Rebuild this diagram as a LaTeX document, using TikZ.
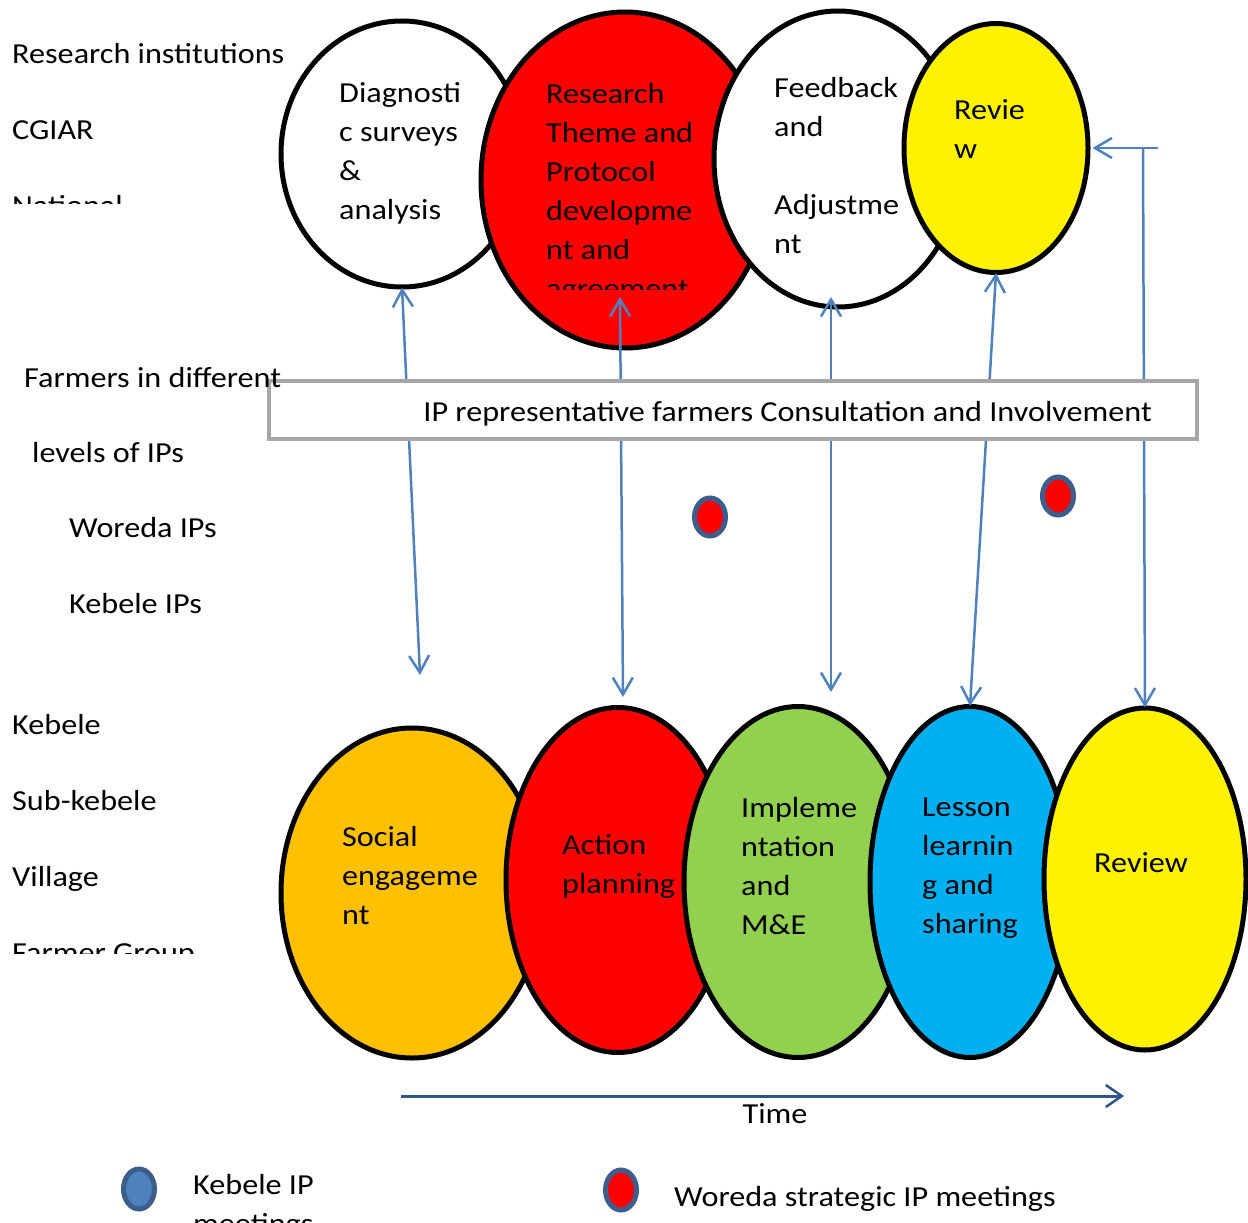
\documentclass[tikz,border=0pt]{standalone}
\usepackage{fontspec}
\setmainfont{Carlito}[FakeStretch=1.11]
\usetikzlibrary{shapes.geometric,arrows.meta}
\definecolor{linkblue}{HTML}{4F81BD}
\definecolor{dotedge}{HTML}{3B5E8C}
\definecolor{timeblue}{HTML}{2B558C}
\definecolor{boxgray}{HTML}{A6A6A6}
\definecolor{sorange}{HTML}{FFC000}
\definecolor{igreen}{HTML}{92D050}
\definecolor{lblue}{HTML}{00B0F0}
\newcommand\cfont{\fontsize{29}{39}\selectfont}
\newcommand\wfont{\fontsize{29}{76}\selectfont}

\begin{document}
\begin{tikzpicture}[x=1pt,y=-1pt,
    blob/.style={ellipse,draw=black,line width=5pt,inner sep=0pt},
    txt/.style={font=\cfont,align=left,anchor=north west,inner sep=0pt},
    link/.style={draw=linkblue,line width=2.5pt},
    vtip/.tip={Straight Barb[length=17pt,width=20pt,line width=2.5pt]},
    meet/.style={ellipse,draw=dotedge,line width=5pt,minimum width=31pt,minimum height=38pt,inner sep=0pt}]
    \useasboundingbox (0,0) rectangle (1248,1223);

    \node[blob,fill=white,minimum width=242pt,minimum height=266pt] (diag) at (402,154) {};
    \node[blob,fill=red,minimum width=288pt,minimum height=336pt] (theme) at (625,180) {};
    \node[blob,fill=white,minimum width=248pt,minimum height=296pt] (feed) at (838,159) {};
    \node[blob,fill=yellow,minimum width=184pt,minimum height=249pt] (yel) at (996,148) {};

    \node[blob,fill=sorange,minimum width=262pt,minimum height=330pt] (soc) at (412,893) {};
    \node[blob,fill=red,minimum width=224pt,minimum height=345pt] (act) at (618,880) {};
    \node[blob,fill=igreen,minimum width=228pt,minimum height=351pt] (impl) at (798,882) {};
    \node[blob,fill=lblue,minimum width=200pt,minimum height=351pt] (les) at (970,882) {};
    \node[blob,fill=yellow,minimum width=202pt,minimum height=342pt] (rev) at (1145,879) {};

    \node[txt] (diagt) at (339,82) {Diagnosti\\c surveys\\\&\\analysis};
    \begin{scope}
        \clip (480,0) rectangle (770,289);
        \node[txt] (themet) at (546,83) {Research\\Theme and\\Protocol\\developme\\nt and\\agreement};
    \end{scope}
    \node[txt] (feedt) at (774,77) {Feedback\\and\\[39pt]Adjustme\\nt};
    \node[txt] (yelt) at (954,99) {Revie\\w};
    \node[txt] (soct) at (342,826) {Social\\engageme\\nt};
    \node[txt] (actt) at (562,834) {Action\\planning};
    \node[txt] (implt) at (741,797) {Impleme\\ntation\\and\\M\&E};
    \node[txt] (lest) at (922,798) {Lesson\\learnin\\g and\\sharing};
    \node[font=\cfont,inner sep=0pt] (revt) at (1141,863) {Review};

    \coordinate (u2) at (620,297);
    \coordinate (u3) at (831,297);
    \coordinate (l1) at (420,675);
    \coordinate (l2) at (623,697);
    \coordinate (l3) at (831,692);
    \coordinate (r5) at (1158,148);
    \coordinate (j5) at (1143,148);
    \draw[link,vtip-vtip] ([yshift=2pt]diag.south) -- (l1);
    \draw[link,vtip-vtip] (u2) -- (l2);
    \draw[link,vtip-vtip] (u3) -- (l3);
    \draw[link,vtip-vtip] ([yshift=2pt]yel.south) -- ([yshift=-2pt]les.north);
    \draw[link,-vtip] (r5) -- ([xshift=2pt]yel.east);
    \draw[link,-vtip] (j5) -- ([yshift=-2pt]rev.north);

    \node[draw=boxgray,fill=white,line width=4pt,minimum width=928pt,minimum height=58pt] (box) at (733,410) {};
    \node[font=\cfont,anchor=east,inner sep=0pt] (boxt) at ([xshift=-47pt,yshift=-4pt]box.east) {IP representative farmers Consultation and Involvement};

    \begin{scope}
        \clip (0,0) rectangle (300,203);
        \node[txt,font=\wfont] (inst) at (12,43) {Research institutions\\CGIAR\\National};
    \end{scope}
    \node[txt] (farm) at (24,367) {Farmers in different};
    \node[txt] (lev) at (32,442) {levels of IPs};
    \node[txt] (wip) at (69,517) {Woreda IPs};
    \node[txt] (kip) at (69,593) {Kebele IPs};
    \begin{scope}
        \clip (0,690) rectangle (300,953);
        \node[txt,font=\wfont] (vill) at (12,714) {Kebele\\Sub-kebele\\Village\\Farmer Group};
    \end{scope}

    \node[meet,fill=red] (w1) at (710,517) {};
    \node[meet,fill=red] (w2) at (1058,496) {};

    \coordinate (t0) at (401,1096);
    \coordinate (t1) at (1124,1096);
    \draw[draw=timeblue,line width=3pt,-{Straight Barb[length=16pt,width=22pt,line width=2.5pt]}] (t0) -- (t1);
    \node[font=\cfont,inner sep=0pt] (time) at (775,1114) {Time};

    \node[meet,fill=linkblue,minimum height=40pt] (k0) at (139,1189) {};
    \node[txt] (k0t) at (193,1174) {Kebele IP\\meetings};
    \node[meet,fill=red,minimum height=40pt] (w0) at (621,1190) {};
    \node[txt] (w0t) at (674,1186) {Woreda strategic IP meetings};
\end{tikzpicture}
\end{document}
